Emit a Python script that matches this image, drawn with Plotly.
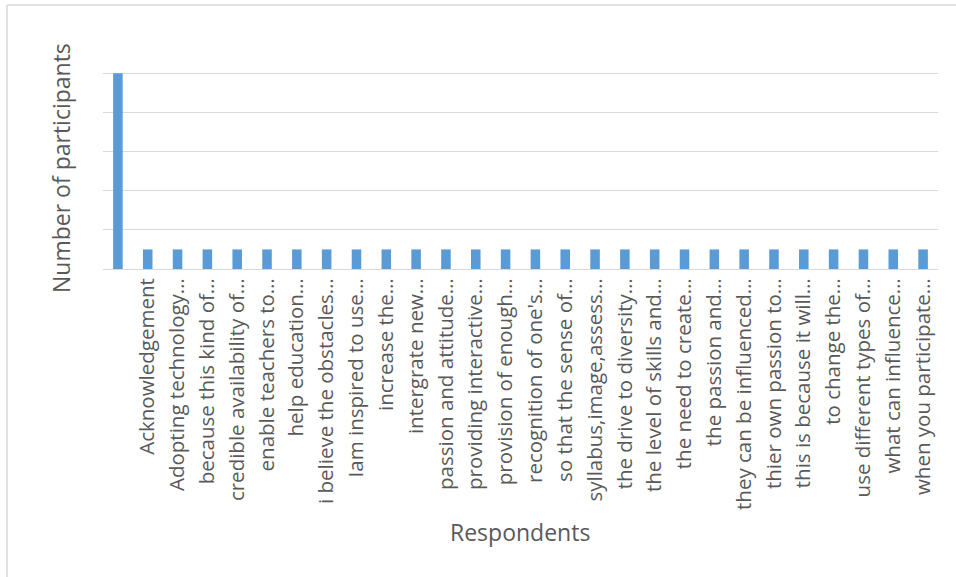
import plotly.graph_objects as go

categories = [
    " ",
    "Acknowledgement",
    "Adopting technology…",
    "because this kind of…",
    "credible availability of…",
    "enable teachers to…",
    "help education…",
    "i believe the obstacles…",
    "Iam inspired to use…",
    "increase the…",
    "intergrate new…",
    "passion and attitude…",
    "providing interactive…",
    "provision of enough…",
    "recognition of one's…",
    "so that the sense of…",
    "syllabus,image,assess…",
    "the drive to diversity…",
    "the level of skills and…",
    "the need to create…",
    "the passion and…",
    "they can be influenced…",
    "thier own passion to…",
    "this is because it will…",
    "to change the…",
    "use different types of…",
    "what can influence…",
    "when you participate…",
]
values = [10] + [1] * 27

y_title = "Number of participants"
x_title = "Respondents"

W, H = 956, 577
L, R, T, B = 103, 18, 34, 308
pw, ph = W - L - R, H - T - B

def px_x(x):
    return (x - L) / pw

def px_y(y):
    return (H - B - y) / ph

FONT = "Open Sans"
GREY = "#595959"

fig = go.Figure(
    go.Bar(x=categories, y=values, marker=dict(color="#5b9bd5", line=dict(width=0)))
)

fig.update_layout(
    width=W, height=H,
    margin=dict(l=L, r=R, t=T, b=B),
    paper_bgcolor="white", plot_bgcolor="white",
    bargap=0.68,
    showlegend=False,
    font=dict(family=FONT, color=GREY),
    xaxis=dict(
        type="category",
        tickangle=-90,
        tickfont=dict(size=20.5, color=GREY, family=FONT),
        showgrid=False,
        showline=True, linecolor="#d9d9d9", linewidth=1,
        ticks="",
        fixedrange=True,
    ),
    yaxis=dict(
        range=[0, 12], dtick=2,
        showticklabels=False,
        showgrid=True, gridcolor="#d9d9d9", gridwidth=1,
        zeroline=False,
        ticks="",
        fixedrange=True,
    ),
    annotations=[
        dict(text=y_title, xref="paper", yref="paper",
             x=px_x(61), y=px_y(168), textangle=-90, showarrow=False,
             font=dict(size=23, color=GREY, family=FONT),
             xanchor="center", yanchor="middle"),
        dict(text=x_title, xref="paper", yref="paper",
             x=px_x(520), y=px_y(532), showarrow=False,
             font=dict(size=23, color=GREY, family=FONT),
             xanchor="center", yanchor="middle"),
    ],
    shapes=[
        dict(type="line", xref="paper", yref="paper",
             x0=px_x(7), x1=px_x(960), y0=px_y(5), y1=px_y(5),
             line=dict(color="#d9d9d9", width=1.5)),
        dict(type="line", xref="paper", yref="paper",
             x0=px_x(7), x1=px_x(7), y0=px_y(5), y1=px_y(580),
             line=dict(color="#d9d9d9", width=1.5)),
    ],
)

fig.write_html("out.html", config={"displayModeBar": False})
